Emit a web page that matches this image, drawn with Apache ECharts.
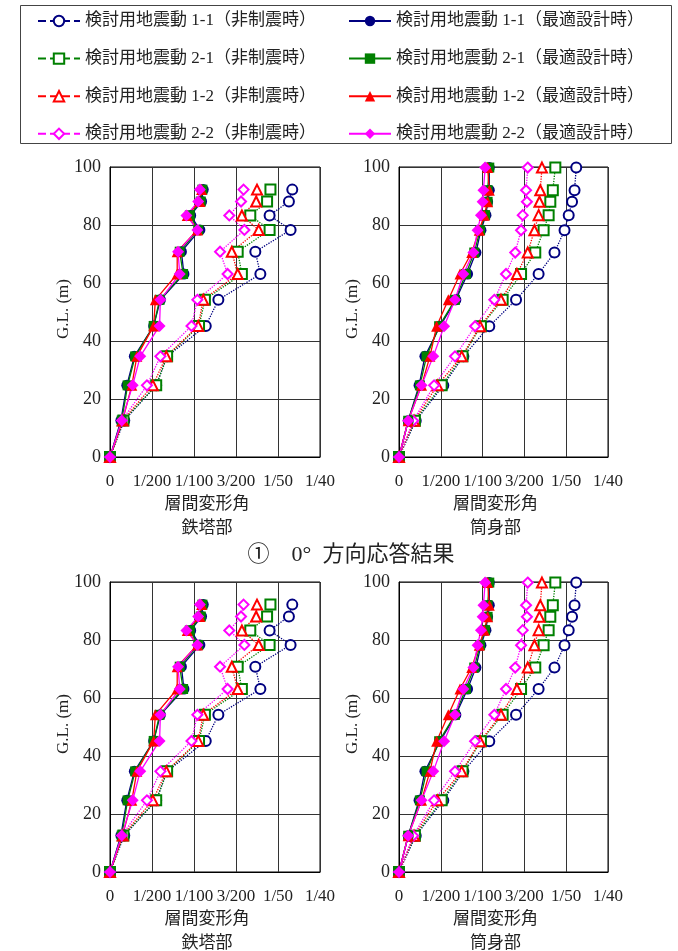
<!DOCTYPE html>
<html>
<head>
<meta charset="utf-8">
<script src="https://cdn.jsdelivr.net/npm/echarts@6/dist/echarts.min.js"></script>
<style>
html, body { margin: 0; padding: 0; background: #fff; }
#main { width: 678px; height: 951px; }
</style>
</head>
<body>
<div id="main"></div>
<script>
// 層間変形角 (rad) vs G.L. (m)
const xTickLabels = ['0', '1/200', '1/100', '3/200', '1/50', '1/40'];

const namesN = ['検討用地震動 1-1（非制震時）', '検討用地震動 2-1（非制震時）', '検討用地震動 1-2（非制震時）', '検討用地震動 2-2（非制震時）'];
const namesD = ['検討用地震動 1-1（最適設計時）', '検討用地震動 2-1（最適設計時）', '検討用地震動 1-2（最適設計時）', '検討用地震動 2-2（最適設計時）'];

// 鉄塔部 node heights
const towerH = [0, 12.6, 24.7, 34.7, 45.2, 54.2, 63.1, 70.8, 78.3, 83.3, 88.1, 92.2];
// 筒身部 node heights
const shaftH = [0, 12.5, 24.7, 34.7, 45.1, 54.2, 63.1, 70.5, 78.2, 83.4, 88.0, 92.0, 99.8];

// 鉄塔部 非制震時
const tower11N = [0, 0.0017, 0.0055, 0.0068, 0.0114, 0.0129, 0.0179, 0.0173, 0.0215, 0.0190, 0.0213, 0.0217];
const tower21N = [0, 0.0016, 0.0055, 0.0068, 0.0106, 0.0113, 0.0157, 0.0152, 0.0190, 0.0167, 0.0187, 0.0191];
const tower12N = [0, 0.0015, 0.0051, 0.0067, 0.0105, 0.0111, 0.0152, 0.0145, 0.0177, 0.0157, 0.0174, 0.0175];
const tower22N = [0, 0.0014, 0.0044, 0.0060, 0.0097, 0.0104, 0.0140, 0.0131, 0.0160, 0.0142, 0.0156, 0.0159];
// 鉄塔部 最適設計時
const tower11D = [0, 0.0013, 0.0020, 0.0029, 0.0052, 0.0060, 0.0088, 0.0085, 0.0107, 0.0096, 0.0109, 0.0111];
const tower21D = [0, 0.0014, 0.0021, 0.0030, 0.0052, 0.0059, 0.0087, 0.0083, 0.0105, 0.0095, 0.0108, 0.0110];
const tower12D = [0, 0.0015, 0.0026, 0.0032, 0.0052, 0.0054, 0.0080, 0.0080, 0.0104, 0.0092, 0.0107, 0.0109];
const tower22D = [0, 0.0014, 0.0027, 0.0036, 0.0059, 0.0060, 0.0083, 0.0081, 0.0104, 0.0091, 0.0105, 0.0107];

// 筒身部 非制震時
const shaft11N = [0, 0.0020, 0.0053, 0.0077, 0.0108, 0.0140, 0.0167, 0.0186, 0.0198, 0.0203, 0.0207, 0.0210, 0.0212];
const shaft21N = [0, 0.0019, 0.0051, 0.0076, 0.0098, 0.0124, 0.0146, 0.0163, 0.0173, 0.0179, 0.0181, 0.0184, 0.0187];
const shaft12N = [0, 0.0018, 0.0046, 0.0075, 0.0097, 0.0122, 0.0141, 0.0154, 0.0162, 0.0167, 0.0168, 0.0169, 0.0171];
const shaft22N = [0, 0.0017, 0.0042, 0.0067, 0.0091, 0.0114, 0.0128, 0.0139, 0.0146, 0.0148, 0.0153, 0.0152, 0.0154];
// 筒身部 最適設計時
const shaft11D = [0, 0.0011, 0.0024, 0.0031, 0.0049, 0.0068, 0.0082, 0.0092, 0.0098, 0.0104, 0.0106, 0.0108, 0.0108];
const shaft21D = [0, 0.0011, 0.0025, 0.0033, 0.0048, 0.0067, 0.0080, 0.0090, 0.0097, 0.0103, 0.0106, 0.0106, 0.0108];
const shaft12D = [0, 0.0011, 0.0027, 0.0037, 0.0045, 0.0059, 0.0073, 0.0087, 0.0096, 0.0102, 0.0106, 0.0108, 0.0106];
const shaft22D = [0, 0.0011, 0.0027, 0.0041, 0.0054, 0.0067, 0.0077, 0.0089, 0.0094, 0.0098, 0.0100, 0.0101, 0.0103];

const colors = ['#000080', '#008000', '#ff0000', '#ff00ff'];
const openSym = ['emptyCircle', 'emptyRect', 'emptyTriangle', 'emptyDiamond'];
const solidSym = ['circle', 'rect', 'triangle', 'diamond'];
const solidSize = [11, 10, 11, 12];

const FONT = "'Liberation Serif', 'Noto Sans CJK JP', serif";
const JFONT = "'Noto Sans CJK JP', sans-serif";

const grids = [
    { left: 110, top: 167, width: 210, height: 290 },
    { left: 399, top: 167, width: 209, height: 290 },
    { left: 110, top: 582, width: 210, height: 290 },
    { left: 399, top: 582, width: 209, height: 290 }
];

const panels = [
    { part: '鉄塔部', h: towerH, n: [tower11N, tower21N, tower12N, tower22N], d: [tower11D, tower21D, tower12D, tower22D] },
    { part: '筒身部', h: shaftH, n: [shaft11N, shaft21N, shaft12N, shaft22N], d: [shaft11D, shaft21D, shaft12D, shaft22D] },
    { part: '鉄塔部', h: towerH, n: [tower11N, tower21N, tower12N, tower22N], d: [tower11D, tower21D, tower12D, tower22D] },
    { part: '筒身部', h: shaftH, n: [shaft11N, shaft21N, shaft12N, shaft22N], d: [shaft11D, shaft21D, shaft12D, shaft22D] }
];

function pts(xs, hs) {
    return xs.map(function (v, i) { return [v, hs[i]]; });
}

let xAxes = [], yAxes = [], series = [], graphic = [];

grids.forEach(function (g, gi) {
    xAxes.push({
        gridIndex: gi, type: 'value', min: 0, max: 0.025, interval: 0.005,
        axisLine: { show: true, lineStyle: { color: '#000', width: 1 } },
        axisTick: { show: false },
        splitLine: { show: true, lineStyle: { color: '#333', width: 1 } },
        axisLabel: {
            interval: 0, margin: 16, color: '#222', fontSize: 17, fontFamily: FONT,
            formatter: function (v) { return xTickLabels[Math.round(v / 0.005)]; }
        }
    });
    yAxes.push({
        gridIndex: gi, type: 'value', min: 0, max: 100, interval: 20,
        axisLine: { show: true, lineStyle: { color: '#000', width: 1 } },
        axisTick: { show: false },
        splitLine: { show: true, lineStyle: { color: '#333', width: 1 } },
        axisLabel: { margin: 9, color: '#222', fontSize: 18, fontFamily: FONT }
    });
    // frame round the plot
    graphic.push({
        type: 'rect', silent: true, z: 0,
        shape: { x: g.left, y: g.top, width: g.width, height: g.height },
        style: { fill: null, stroke: '#000', lineWidth: 1 }
    });
    const cx = g.left + g.width / 2 - 8;
    const bottom = g.top + g.height;
    graphic.push({
        type: 'text', x: cx, y: bottom + 46,
        style: { text: '層間変形角', font: '17px ' + JFONT, fill: '#222', align: 'center', verticalAlign: 'middle' }
    });
    graphic.push({
        type: 'text', x: cx, y: bottom + 70,
        style: { text: panels[gi].part, font: '17px ' + JFONT, fill: '#222', align: 'center', verticalAlign: 'middle' }
    });
    graphic.push({
        type: 'text', x: g.left - 46, y: g.top + g.height / 2 - 3, rotation: Math.PI / 2,
        style: { text: 'G.L. (m)', font: '17px ' + FONT, fill: '#222', align: 'center', verticalAlign: 'middle' }
    });

    const p = panels[gi];
    for (let k = 0; k < 4; k++) {
        series.push({
            name: namesN[k], type: 'line', xAxisIndex: gi, yAxisIndex: gi,
            data: pts(p.n[k], p.h), clip: false,
            symbol: openSym[k], symbolSize: 10,
            itemStyle: { color: colors[k], borderWidth: 1.1 },
            lineStyle: { color: colors[k], width: 1.3, type: 'dotted' }
        });
    }
    for (let k = 0; k < 4; k++) {
        series.push({
            name: namesD[k], type: 'line', xAxisIndex: gi, yAxisIndex: gi,
            data: pts(p.d[k], p.h), clip: false,
            symbol: solidSym[k], symbolSize: solidSize[k],
            itemStyle: { color: colors[k] },
            lineStyle: { color: colors[k], width: 1.3 }
        });
    }
});

// legend frame
graphic.push({
    type: 'rect', silent: true,
    shape: { x: 20.5, y: 5.5, width: 651, height: 138 },
    style: { fill: null, stroke: '#444', lineWidth: 1 }
});
// section caption
graphic.push({
    type: 'text', x: 351, y: 555,
    style: { text: '①　0°  方向応答結果', font: '22px ' + FONT, fill: '#222', align: 'center', verticalAlign: 'middle' }
});

const legendText = { fontSize: 17, fontFamily: FONT, color: '#222', lineHeight: 20 };

let option = {
    animation: false,
    backgroundColor: '#fff',
    grid: grids,
    xAxis: xAxes,
    yAxis: yAxes,
    legend: [
        {
            orient: 'vertical', left: 32, top: 6, itemGap: 17.6,
            itemWidth: 42, itemHeight: 13, data: namesN,
            lineStyle: { type: 'dashed' },
            textStyle: legendText
        },
        {
            orient: 'vertical', left: 343, top: 6, itemGap: 17.6,
            itemWidth: 42, itemHeight: 13, data: namesD,
            textStyle: legendText
        }
    ],
    graphic: graphic,
    series: series
};

let myChart = echarts.init(document.getElementById('main'));
myChart.setOption(option);

window.addEventListener('resize', function () {
    myChart.resize();
}, false);
</script>
</body>
</html>
